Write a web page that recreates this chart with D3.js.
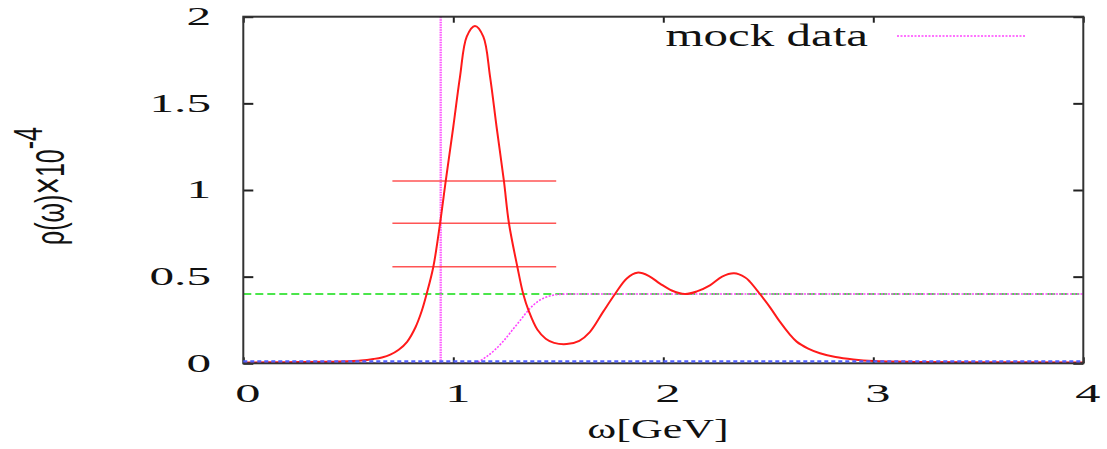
<!DOCTYPE html>
<html>
<head>
<meta charset="utf-8">
<script src="https://cdn.jsdelivr.net/npm/d3@7"></script>
<style>
  html, body { margin: 0; padding: 0; background: #fff; }
  svg { display: block; }
</style>
</head>
<body>
<svg id="chart" width="1107" height="449"></svg>
<script>
// Reconstructed spectral function rho(omega) (units of 1e-4), omega in GeV
const spectralOmega = [0, 0.2, 0.4, 0.5, 0.56, 0.62, 0.66, 0.70, 0.74, 0.78, 0.82, 0.85, 0.873,
  0.905, 0.937, 0.964, 1.0, 1.032, 1.064, 1.103, 1.143, 1.175, 1.206, 1.241, 1.265, 1.305, 1.333, 1.36,
  1.40, 1.44, 1.48, 1.54, 1.6, 1.65, 1.714, 1.77, 1.826, 1.876, 1.93, 1.984, 2.04, 2.103, 2.16, 2.222, 2.28,
  2.337, 2.39, 2.413, 2.46, 2.51, 2.555, 2.6, 2.635, 2.69, 2.746, 2.82, 2.905, 3.0, 3.2, 3.5, 4.0];
const spectralRho = [0.005, 0.006, 0.009, 0.012, 0.016, 0.025, 0.034, 0.050, 0.078, 0.124, 0.208, 0.303, 0.40,
  0.557, 0.808, 1.052, 1.365, 1.654, 1.885, 1.946, 1.885, 1.654, 1.365, 1.052, 0.808, 0.557, 0.40, 0.30,
  0.195, 0.142, 0.118, 0.111, 0.13, 0.18, 0.298, 0.40, 0.49, 0.523, 0.505, 0.46, 0.42, 0.40, 0.415, 0.45, 0.50,
  0.519, 0.495, 0.47, 0.40, 0.32, 0.24, 0.17, 0.125, 0.085, 0.058, 0.036, 0.022, 0.013, 0.008, 0.006, 0.005];

// Mock data: continuum part and the pole position
const mockOmega = [0, 1.0, 1.08, 1.12, 1.16, 1.2, 1.24, 1.28, 1.32, 1.36, 1.40, 1.44, 1.48, 1.52, 1.56, 4.0];
const mockRho   = [0, 0, 0.0, 0.01, 0.04, 0.08, 0.13, 0.19, 0.25, 0.31, 0.355, 0.381, 0.394, 0.399, 0.4, 0.4];
const poleOmega = 0.94;

// Horizontal error levels spanning an omega interval
const errorLevels = [1.052, 0.808, 0.557];
const errorRange = [0.71, 1.49];

// Reference levels
const continuumLevel = 0.4;
const baselineLevel = 0.008;

// Axis ticks
const xTickValues = [0, 1, 2, 3, 4];
const xTickLabels = ["0", "1", "2", "3", "4"];
const yTickValues = [0, 0.5, 1, 1.5, 2];
const yTickLabels = ["0", "0.5", "1", "1.5", "2"];

const legendLabel = "mock data";
const xTitle = "ω[GeV]";

const svg = d3.select("#chart");
const frame = { left: 243.3, right: 1083.3, top: 16.7, bottom: 363.3 };

const x = d3.scaleLinear().domain([0, 4]).range([frame.left, frame.right]);
const y = d3.scaleLinear().domain([0, 2]).range([frame.bottom, frame.top]);

svg.append("defs").append("clipPath").attr("id", "plot")
  .append("rect").attr("x", frame.left).attr("y", frame.top)
  .attr("width", frame.right - frame.left).attr("height", frame.bottom - frame.top);

const plot = svg.append("g").attr("clip-path", "url(#plot)");

const smooth = d3.line().x(d => x(d[0])).y(d => y(d[1])).curve(d3.curveCatmullRom.alpha(0.5));
const step = d3.line().x(d => x(d[0])).y(d => y(d[1])).curve(d3.curveMonotoneX);

// green dashed continuum level
plot.append("line")
  .attr("x1", x(0)).attr("x2", x(4))
  .attr("y1", y(continuumLevel)).attr("y2", y(continuumLevel))
  .attr("stroke", "#11dd11").attr("stroke-width", 1.5)
  .attr("stroke-dasharray", "8,4");

// mock data continuum
plot.append("path")
  .datum(mockOmega.map((w, i) => [w, mockRho[i]]))
  .attr("d", step)
  .attr("fill", "none").attr("stroke", "#ff44ff").attr("stroke-width", 1.6)
  .attr("stroke-dasharray", "2,1.5");

// mock data pole
plot.append("line")
  .attr("x1", x(poleOmega)).attr("x2", x(poleOmega))
  .attr("y1", y(0)).attr("y2", y(2))
  .attr("stroke", "#ff55ff").attr("stroke-width", 2.4)
  .attr("stroke-dasharray", "1.5,1");

// error levels
plot.selectAll("line.err").data(errorLevels).enter().append("line")
  .attr("class", "err")
  .attr("x1", x(errorRange[0])).attr("x2", x(errorRange[1]))
  .attr("y1", d => y(d)).attr("y2", d => y(d))
  .attr("stroke", "#ff5555").attr("stroke-width", 1.6);

// reconstructed spectral function
plot.append("path")
  .datum(spectralOmega.map((w, i) => [w, spectralRho[i]]))
  .attr("d", smooth)
  .attr("fill", "none").attr("stroke", "#ff1a1a").attr("stroke-width", 2);

// axes (ticks on all four sides)
const tickStyle = g => {
  g.select(".domain").remove();
  g.selectAll(".tick line").attr("stroke", "#222").attr("stroke-width", 2);
};
svg.append("g").attr("transform", `translate(0,${frame.bottom})`)
  .call(d3.axisBottom(x).tickValues(xTickValues).tickSize(-6).tickFormat(""))
  .call(tickStyle);
svg.append("g").attr("transform", `translate(0,${frame.top})`)
  .call(d3.axisTop(x).tickValues(xTickValues).tickSize(-6).tickFormat(""))
  .call(tickStyle);
svg.append("g").attr("transform", `translate(${frame.left},0)`)
  .call(d3.axisLeft(y).tickValues(yTickValues).tickSize(-10).tickFormat(""))
  .call(tickStyle);
svg.append("g").attr("transform", `translate(${frame.right},0)`)
  .call(d3.axisRight(y).tickValues(yTickValues).tickSize(-10).tickFormat(""))
  .call(tickStyle);

// frame
svg.append("rect")
  .attr("x", frame.left).attr("y", frame.top)
  .attr("width", frame.right - frame.left).attr("height", frame.bottom - frame.top)
  .attr("fill", "none").attr("stroke", "#333").attr("stroke-width", 2);

// blue dotted baseline, drawn over the bottom edge
svg.append("line")
  .attr("x1", x(0)).attr("x2", x(4))
  .attr("y1", y(baselineLevel) - 0.5).attr("y2", y(baselineLevel) - 0.5)
  .attr("stroke", "#5060ff").attr("stroke-width", 2.2)
  .attr("stroke-dasharray", "4,3");

const serif = "'Liberation Serif', 'Times New Roman', serif";

// y tick labels
svg.append("g").selectAll("text").data(yTickValues).enter().append("text")
  .attr("transform", d => `translate(211,${y(d) + 8.3}) scale(2,1)`)
  .attr("text-anchor", "end")
  .attr("font-family", serif).attr("font-size", 24.6).attr("fill", "#111")
  .text((d, i) => yTickLabels[i]);

// x tick labels
svg.append("g").selectAll("text").data(xTickValues).enter().append("text")
  .attr("transform", d => `translate(${x(d) + 4.5},401.7) scale(2.05,1)`)
  .attr("text-anchor", "middle")
  .attr("font-family", serif).attr("font-size", 24.6).attr("fill", "#111")
  .text((d, i) => xTickLabels[i]);

// x title
svg.append("text")
  .attr("transform", "translate(658,438.3) scale(1.6,1)")
  .attr("text-anchor", "middle")
  .attr("font-family", serif).attr("font-size", 27.5).attr("fill", "#111")
  .text(xTitle);

// y title
const yt = svg.append("text")
  .attr("transform", "translate(64,245) scale(1.6,1) rotate(-90)")
  .attr("text-anchor", "start")
  .attr("font-family", "'Liberation Sans', Arial, sans-serif")
  .attr("font-size", 25).attr("fill", "#111");
yt.append("tspan").text("ρ(ω)");
yt.append("tspan").attr("font-size", 30).text("×");
yt.append("tspan").text("10");
yt.append("tspan").attr("dy", -14).text("-4");

// legend
svg.append("text")
  .attr("transform", "translate(868,45.7) scale(1.53,1)")
  .attr("text-anchor", "end")
  .attr("font-family", serif).attr("font-size", 32).attr("fill", "#111")
  .text(legendLabel);
svg.append("line")
  .attr("x1", 897).attr("x2", 1026).attr("y1", 36).attr("y2", 36)
  .attr("stroke", "#ff44ff").attr("stroke-width", 1.5)
  .attr("stroke-dasharray", "2,1.5");
</script>
</body>
</html>
